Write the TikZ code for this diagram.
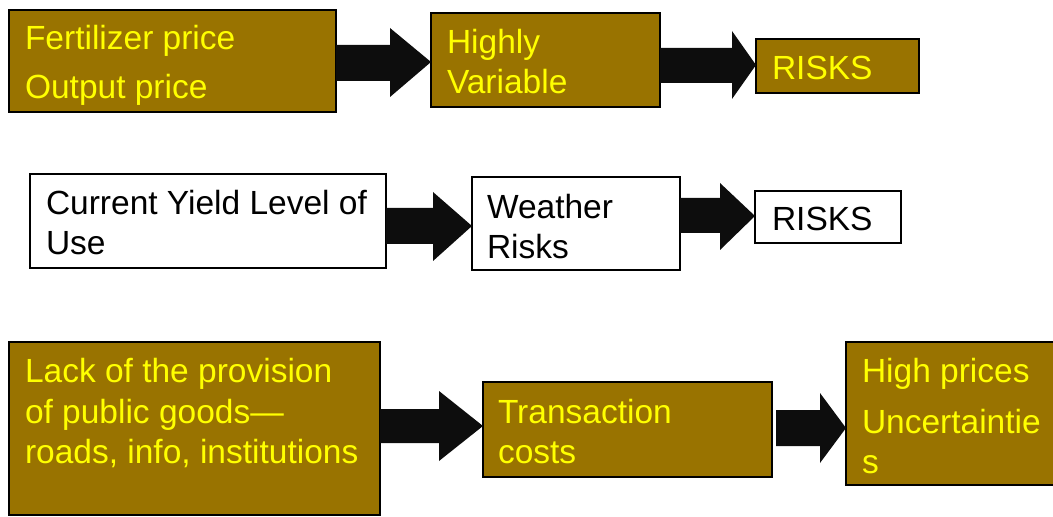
\documentclass[tikz,border=0pt]{standalone}
\usepackage{fontspec}
\setmainfont{Liberation Sans}
\definecolor{boxbrown}{RGB}{153,115,0}
\definecolor{arrowblack}{RGB}{13,13,13}
\definecolor{txtyellow}{RGB}{255,255,0}
\newcommand\mlines[1]{\vtop{\halign{##\hfil\cr#1\crcr}}}
\begin{document}
\begin{tikzpicture}[x=1bp,y=-1bp,
  box/.style={draw=black, line width=2.5bp, inner sep=0pt, outer sep=0pt, anchor=north west},
  fbox/.style={box, fill=boxbrown},
  wbox/.style={box, fill=white},
  txt/.style={inner sep=0pt, outer sep=0pt, anchor=base west, font=\fontsize{33.5bp}{40bp}\selectfont},
  ytxt/.style={txt, text=txtyellow},
  ktxt/.style={txt, text=black},
  blk/.style={fill=arrowblack}]
\useasboundingbox (0,0) rectangle (1053,517);
% row 1
\node[fbox, minimum width=327bp, minimum height=102bp] (A) at (9,10) {};
\node[fbox, minimum width=229bp, minimum height=94bp] (B) at (431,13) {};
\node[fbox, minimum width=163bp, minimum height=54bp] (C) at (756,39) {};
% row 2
\node[wbox, minimum width=356bp, minimum height=94bp] (D) at (30,174) {};
\node[wbox, minimum width=208bp, minimum height=93bp] (E) at (472,177) {};
\node[wbox, minimum width=146bp, minimum height=52bp] (F) at (755,191) {};
% row 3
\node[fbox, minimum width=371bp, minimum height=173bp] (G) at (9,342) {};
\node[fbox, minimum width=289bp, minimum height=95bp] (H) at (483,382) {};
\node[fbox, minimum width=230bp, minimum height=143bp] (I) at (846,342) {};
% arrows
\fill[blk] (A.east |- 0,45) -- (390,45) -- (390,28) -- (B.west |- 0,62) -- (390,97) -- (390,81) -- (A.east |- 0,81) -- cycle;
\fill[blk] (B.east |- 0,48) -- (732,48) -- (732,31) -- (C.west |- 0,65) -- (732,99) -- (732,83) -- (B.east |- 0,83) -- cycle;
\fill[blk] (D.east |- 0,208) -- (433,208) -- (433,192) -- (E.west |- 0,226) -- (433,261) -- (433,244) -- (D.east |- 0,244) -- cycle;
\fill[blk] (E.east |- 0,198) -- (720,198) -- (720,183) -- (F.west |- 0,216) -- (720,250) -- (720,233) -- (E.east |- 0,233) -- cycle;
\fill[blk] (G.east |- 0,409) -- (439,409) -- (439,391) -- (H.west |- 0,426) -- (439,461) -- (439,443) -- (G.east |- 0,443) -- cycle;
\coordinate (h6) at ([xshift=4bp]H.east);
\fill[blk] (h6 |- 0,410) -- (820,410) -- (820,393) -- (I.west |- 0,428) -- (820,463) -- (820,446) -- (h6 |- 0,446) -- cycle;
% texts
\node[ytxt] (tA) at (25,50) {\mlines{Fertilizer price\cr\noalign{\vskip9bp}Output price}};
\node[ytxt] (tB) at (447,54) {\mlines{Highly\cr Variable}};
\node[ytxt] (tC) at (772,80) {RISKS};
\node[ktxt] (tD) at (46,215) {\mlines{Current Yield Level of\cr Use}};
\node[ktxt] (tE) at (487,219) {\mlines{Weather\cr Risks}};
\node[ktxt] (tF) at (772,231) {RISKS};
\node[ytxt] (tG) at (25,383) {\mlines{Lack of the provision\cr of public goods—\cr roads, info, institutions}};
\node[ytxt] (tH) at (498,423) {\mlines{Transaction\cr costs}};
\node[ytxt] (tI) at (862,383) {\mlines{High prices\cr\noalign{\vskip10bp}Uncertaintie\cr s}};
\end{tikzpicture}
\end{document}
